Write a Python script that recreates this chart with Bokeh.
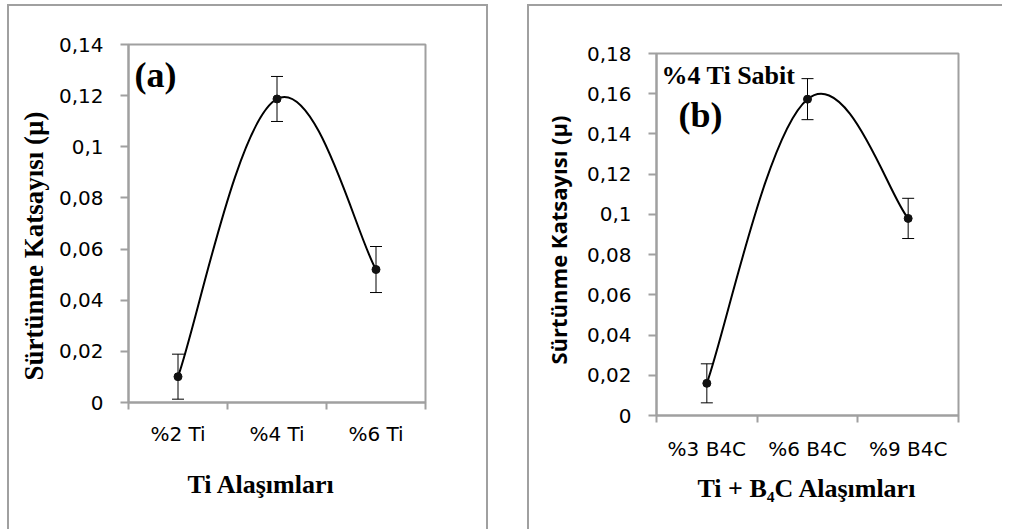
from bokeh.plotting import figure
from bokeh.models import (FixedTicker, Whisker, TeeHead, ColumnDataSource, Label, Range1d, Title)
from bokeh.layouts import row, column
from bokeh.embed import file_html
from bokeh.resources import INLINE

# ---- data ----
cats_a = ["%2 Ti", "%4 Ti", "%6 Ti"]
vals_a = [0.0101, 0.1187, 0.0520]
err_a = [0.0088, 0.0088, 0.0090]
yticks_a = [0.0, 0.02, 0.04, 0.06, 0.08, 0.10, 0.12, 0.14]
ylabels_a = ["0", "0,02", "0,04", "0,06", "0,08", "0,1", "0,12", "0,14"]

cats_b = ["%3 B4C", "%6 B4C", "%9 B4C"]
vals_b = [0.0160, 0.1573, 0.0980]
err_b = [0.0097, 0.0102, 0.0100]
yticks_b = [0.0, 0.02, 0.04, 0.06, 0.08, 0.10, 0.12, 0.14, 0.16, 0.18]
ylabels_b = ["0", "0,02", "0,04", "0,06", "0,08", "0,1", "0,12", "0,14", "0,16", "0,18"]

ytitle = "Sürtünme Katsayısı (µ)"
xtitle_a = "Ti Alaşımları"
xtitle_b = "Ti + B₄C Alaşımları"

GRAY = "#a0a0a0"
SMOOTH = 0.2
TICK_FONT = "DejaVu Sans"


def smooth_segments(xs, ys, f=SMOOTH):
    n = len(xs)
    out = dict(x0=[], y0=[], x1=[], y1=[], cx0=[], cy0=[], cx1=[], cy1=[])
    for i in range(n - 1):
        ip = max(i - 1, 0)
        inx = min(i + 2, n - 1)
        out["x0"].append(xs[i]); out["y0"].append(ys[i])
        out["x1"].append(xs[i + 1]); out["y1"].append(ys[i + 1])
        out["cx0"].append(xs[i] + (xs[i + 1] - xs[ip]) * f)
        out["cy0"].append(ys[i] + (ys[i + 1] - ys[ip]) * f)
        out["cx1"].append(xs[i + 1] - (xs[inx] - xs[i]) * f)
        out["cy1"].append(ys[i + 1] - (ys[inx] - ys[i]) * f)
    return out


def make_panel(cats, vals, errs, yticks, ylabels, ymax, width, height, mb, margin,
               border_styles, xstandoff):
    n = len(cats)
    xs = [i + 0.5 for i in range(n)]
    p = figure(width=width, height=height, output_backend="svg", toolbar_location=None,
               x_range=Range1d(0, n), y_range=Range1d(0, ymax),
               min_border_left=mb[0], min_border_right=mb[1],
               min_border_top=mb[2], min_border_bottom=mb[3])
    p.margin = margin
    p.styles = border_styles
    p.grid.visible = False
    p.outline_line_color = GRAY
    p.outline_line_width = 2
    p.background_fill_color = "white"
    p.border_fill_color = "white"

    p.xaxis.ticker = FixedTicker(ticks=xs, minor_ticks=list(range(n + 1)))
    p.xaxis.major_label_overrides = {x: c for x, c in zip(xs, cats)}
    p.xaxis.major_tick_out = 0
    p.xaxis.major_tick_in = 0
    p.xaxis.minor_tick_out = 7
    p.xaxis.minor_tick_in = 0
    p.xaxis.minor_tick_line_color = GRAY
    p.xaxis.minor_tick_line_width = 2
    p.xaxis.major_label_standoff = xstandoff

    p.yaxis.ticker = FixedTicker(ticks=yticks, minor_ticks=[])
    p.yaxis.major_label_overrides = {t: l for t, l in zip(yticks, ylabels)}
    p.yaxis.major_tick_out = 8
    p.yaxis.major_tick_in = 0
    p.yaxis.major_tick_line_color = GRAY
    p.yaxis.major_tick_line_width = 2
    p.yaxis.minor_tick_line_color = None
    p.yaxis.major_label_standoff = 17

    for ax in (p.xaxis, p.yaxis):
        ax.axis_line_color = GRAY
        ax.axis_line_width = 2
        ax.major_label_text_font = TICK_FONT
        ax.major_label_text_font_size = "20px"
        ax.major_label_text_color = "black"

    seg = smooth_segments(xs, vals)
    p.bezier(x0="x0", y0="y0", x1="x1", y1="y1", cx0="cx0", cy0="cy0",
             cx1="cx1", cy1="cy1", source=ColumnDataSource(seg),
             line_color="black", line_width=2)

    src = ColumnDataSource(dict(x=xs, y=vals,
                                upper=[v + e for v, e in zip(vals, errs)],
                                lower=[v - e for v, e in zip(vals, errs)]))
    w = Whisker(base="x", upper="upper", lower="lower", source=src,
                line_color="black", line_width=1,
                upper_head=TeeHead(size=12, line_color="black", line_width=1),
                lower_head=TeeHead(size=12, line_color="black", line_width=1))
    p.add_layout(w)
    p.scatter("x", "y", source=src, marker="circle", size=8, color="#111111")
    return p


# ---- panel (a) ----
pa = make_panel(cats_a, vals_a, err_a, yticks_a, ylabels_a, 0.14,
                481, 525, (118, 65, 38, 129), (4, 0, 0, 7),
                {"border-top": f"2px solid {GRAY}", "border-left": f"2px solid {GRAY}",
                 "border-right": f"2px solid {GRAY}"}, 12)
pa.add_layout(Title(text=ytitle, align="left", offset=22, standoff=14,
                    text_font="Liberation Serif", text_font_style="bold",
                    text_font_size="27px", text_color="black"), "left")
pa.add_layout(Title(text=xtitle_a, align="left", offset=59, standoff=39,
                    text_font="Liberation Serif", text_font_style="bold",
                    text_font_size="26px", text_color="black"), "below")
pa.add_layout(Label(x=0, y=0.14, x_offset=6, y_offset=-30, text="(a)",
                    text_align="left", text_baseline="alphabetic",
                    text_font="Liberation Serif", text_font_style="bold",
                    text_font_size="36px", text_color="black"))

# ---- panel (b) ----
pb = make_panel(cats_b, vals_b, err_b, yticks_b, ylabels_b, 0.18,
                475, 525, (126, 46, 47, 116), (4, 0, 0, 39),
                {"border-top": f"2px solid {GRAY}", "border-left": f"2px solid {GRAY}"}, 14)
pb.add_layout(Title(text=ytitle, align="left", offset=51, standoff=22,
                    text_font="Open Sans", text_font_style="bold",
                    text_font_size="22px", text_color="black"), "left")
pb.add_layout(Title(text=xtitle_b, align="left", offset=41, standoff=16,
                    text_font="Liberation Serif", text_font_style="bold",
                    text_font_size="26px", text_color="black"), "below")
pb.add_layout(Label(x=0, y=0.18, x_offset=22, y_offset=-61, text="(b)",
                    text_align="left", text_baseline="alphabetic",
                    text_font="Liberation Serif", text_font_style="bold",
                    text_font_size="36px", text_color="black"))
pb.add_layout(Label(x=0, y=0.18, x_offset=5, y_offset=-22, text="%4 Ti Sabit",
                    text_align="left", text_baseline="alphabetic",
                    text_font="Liberation Serif", text_font_style="bold",
                    text_font_size="26px", text_color="black"))

layout = row(column(pa), column(pb), spacing=0)
open("out.html", "w").write(file_html(layout, INLINE))
